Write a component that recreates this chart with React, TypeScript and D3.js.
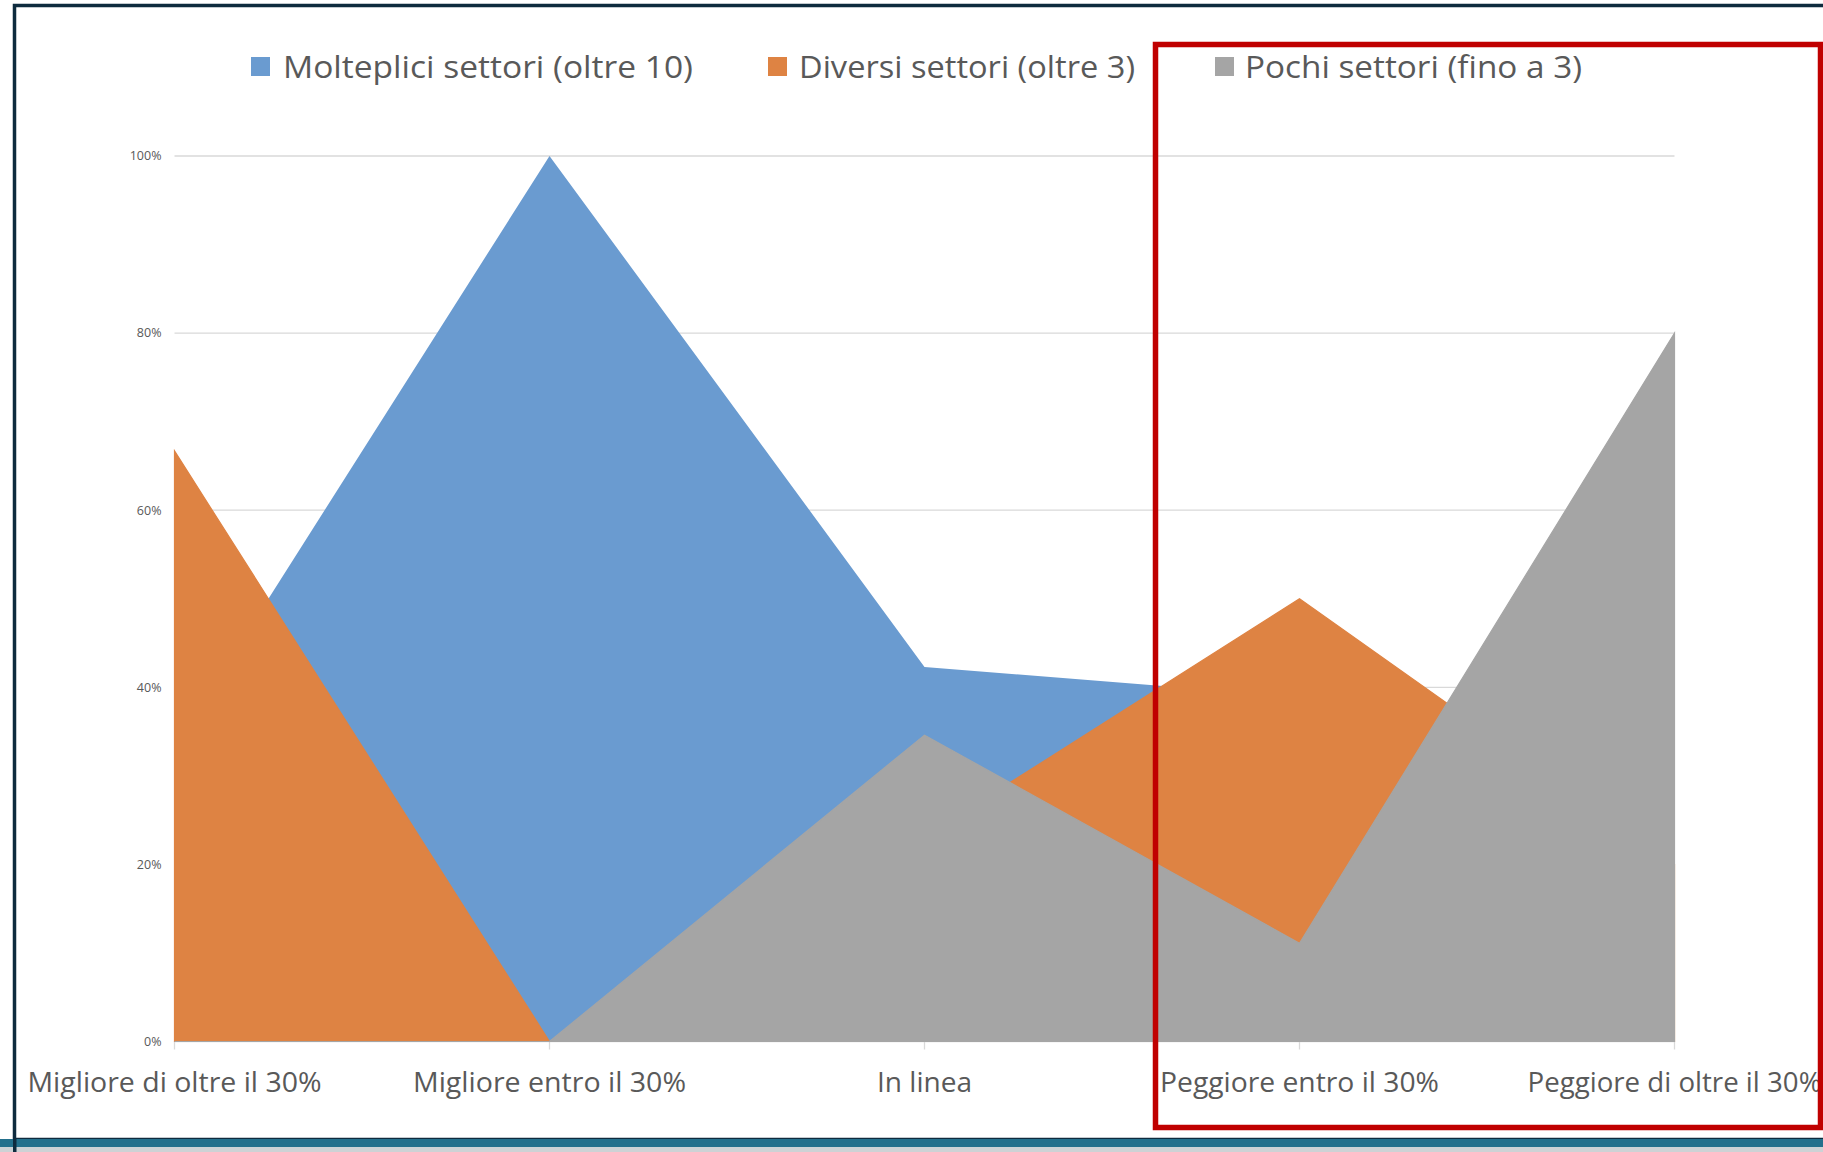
import React from "react";
import * as d3 from "d3";

const categories = [
  "Migliore di oltre il 30%",
  "Migliore entro il 30%",
  "In linea",
  "Peggiore entro il 30%",
  "Peggiore di oltre il 30%",
];
const seriesNames = [
  "Molteplici settori (oltre 10)",
  "Diversi settori (oltre 3)",
  "Pochi settori (fino a 3)",
];
const molteplici = [33.3, 100, 42.3, 38.9, 0];
const diversi = [66.7, 0, 23.1, 50, 20];
const pochi = [0, 0, 34.6, 11.1, 80];
const yTicks = [0, 20, 40, 60, 80, 100];
const colors = ["#6a9bd0", "#de8343", "#a5a5a5"];

const W = 1823;
const H = 1152;
const plot = { left: 174.5, right: 1674.5, top: 156, bottom: 1041.5 };
const legendItems = [
  { sq: 251, tx: 283, w: 410 },
  { sq: 768, tx: 799, w: 336 },
  { sq: 1215, tx: 1245, w: 337 },
];
const labelWidths = [294, 273, 95, 279, 294];
const textColor = "#595959";
const font = "'Open Sans', 'Noto Sans', sans-serif";

export default function App() {
  const x = d3.scalePoint<string>().domain(categories).range([plot.left, plot.right]);
  const y = d3.scaleLinear().domain([0, 100]).range([plot.bottom, plot.top]);
  const series = [molteplici, diversi, pochi];
  const area = d3
    .area<number>()
    .x((_, i) => x(categories[i]) as number)
    .y0(y(0))
    .y1((d) => y(d))
    .curve(d3.curveLinear);

  return (
    <svg
      width={W}
      height={H}
      viewBox={`0 0 ${W} ${H}`}
      style={{ position: "absolute", left: 0, top: 0, display: "block", background: "#fff" }}
    >
      <rect x={0} y={0} width={W} height={H} fill="#ffffff" />
      {/* outer frame */}
      <rect x={14.5} y={5.5} width={W + 20} height={1134} fill="none" stroke="#0e2b3e" strokeWidth={3.5} />
      <rect x={0} y={1139} width={W} height={8} fill="#23708c" />
      <rect x={0} y={1147} width={W} height={5} fill="#cdd2d5" />
      <rect x={13} y={1139} width={3.5} height={13} fill="#0e2b3e" />

      {/* gridlines */}
      {yTicks.map((t) => (
        <line
          key={"g" + t}
          x1={plot.left}
          x2={plot.right}
          y1={y(t)}
          y2={y(t)}
          stroke="#d9d9d9"
          strokeWidth={1.3}
        />
      ))}
      {/* category ticks */}
      {categories.map((c) => (
        <line
          key={"t" + c}
          x1={x(c)}
          x2={x(c)}
          y1={plot.bottom}
          y2={plot.bottom + 8}
          stroke="#d9d9d9"
          strokeWidth={1.3}
        />
      ))}

      {/* areas */}
      {series.map((s, i) => (
        <path
          key={"a" + i}
          d={area(s) || ""}
          fill={colors[i]}
          stroke={i > 0 ? colors[i] : "none"}
          strokeWidth={1.2}
          strokeLinejoin="miter"
        />
      ))}

      {/* y labels */}
      {yTicks.map((t) => (
        <text
          key={"y" + t}
          x={plot.left - 13}
          y={y(t)}
          dy="0.35em"
          textAnchor="end"
          fontFamily={font}
          fontSize={12.5}
          fill={textColor}
        >
          {t + "%"}
        </text>
      ))}

      {/* x labels */}
      {categories.map((c, i) => (
        <text
          key={"x" + c}
          x={x(c)}
          y={1092}
          textAnchor="middle"
          fontFamily={font}
          fontSize={26.5}
          fill={textColor}
          textLength={labelWidths[i]}
          lengthAdjust="spacingAndGlyphs"
        >
          {c}
        </text>
      ))}

      {/* legend */}
      {seriesNames.map((n, i) => (
        <g key={"l" + n}>
          <rect x={legendItems[i].sq} y={57} width={19} height={19} fill={colors[i]} />
          <text
            x={legendItems[i].tx}
            y={77.5}
            fontFamily={font}
            fontSize={31}
            fill={textColor}
            textLength={legendItems[i].w}
            lengthAdjust="spacingAndGlyphs"
          >
            {n}
          </text>
        </g>
      ))}

      {/* red highlight box */}
      <rect x={1155.5} y={44.5} width={665} height={1083} fill="none" stroke="#c00000" strokeWidth={5.5} />
    </svg>
  );
}
